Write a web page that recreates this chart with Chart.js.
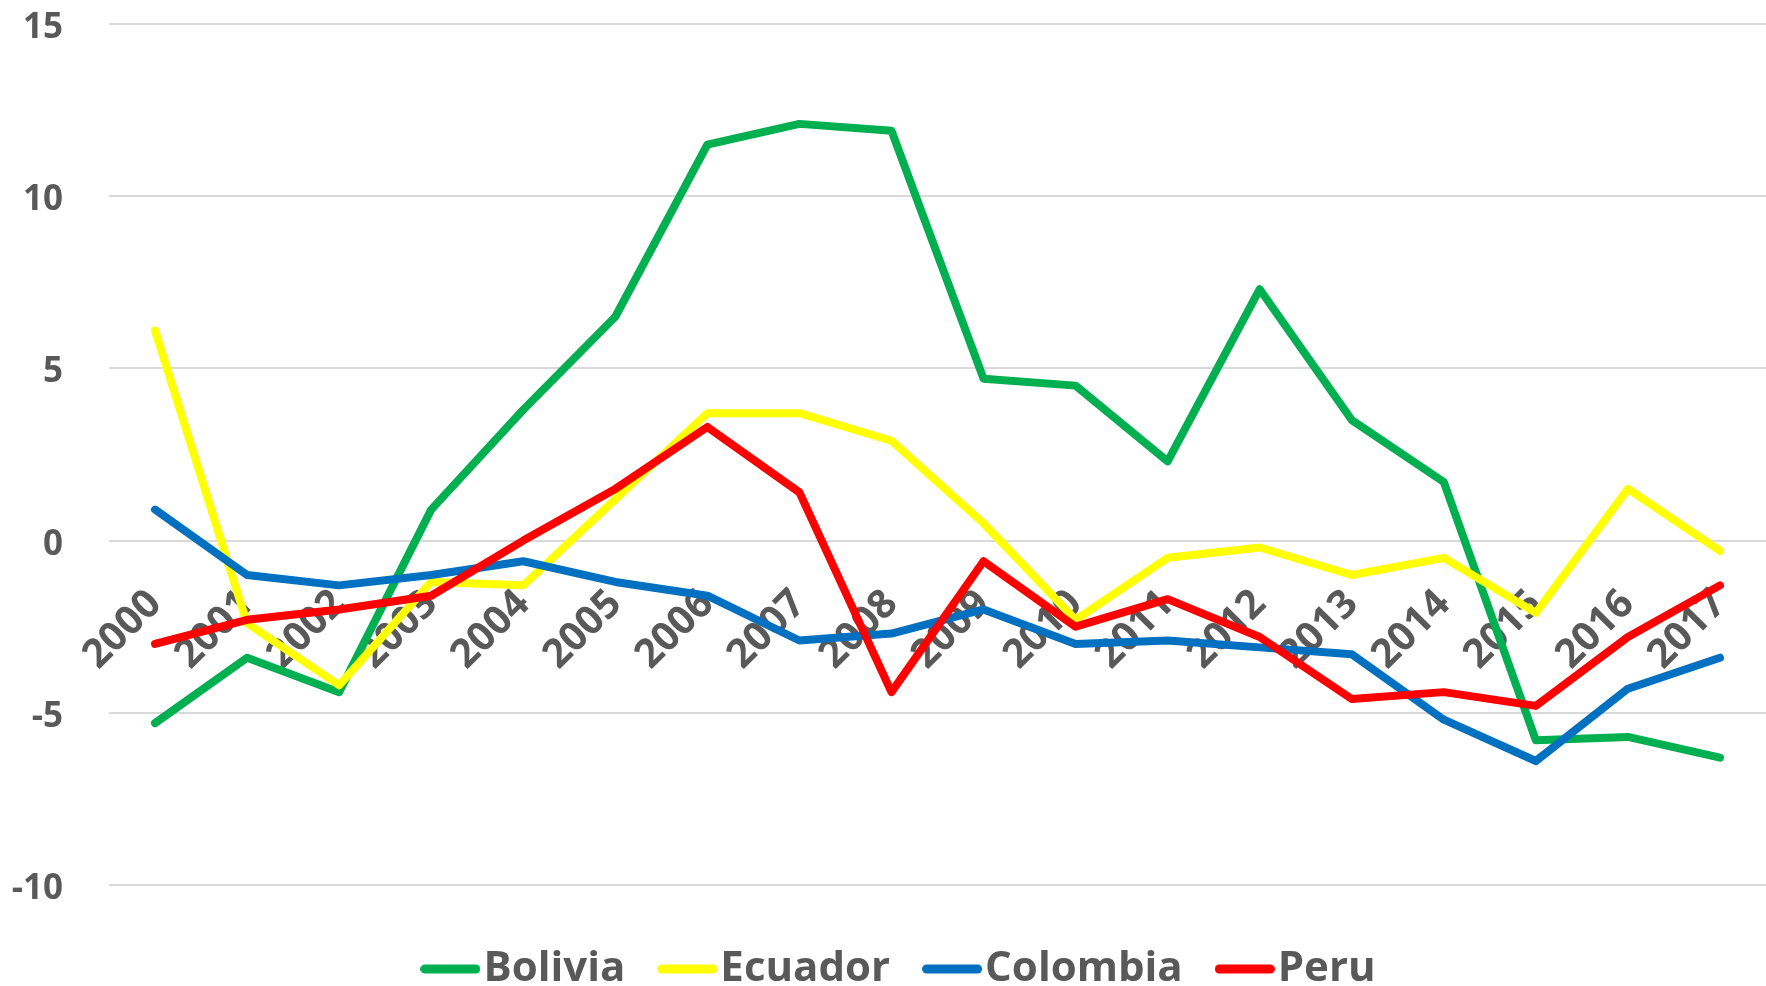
<!DOCTYPE html>
<html>
<head>
<meta charset="utf-8">
<script src="https://cdn.jsdelivr.net/npm/chart.js@4.4.1/dist/chart.umd.min.js"></script>
<style>
    html, body { margin: 0; padding: 0; background: #fff; }
    .chart-box { width: 1766px; height: 986px; }
</style>
</head>
<body>
<div class="chart-box"><canvas id="lineChart"></canvas></div>
<script>
// categories
const years = ["2000", "2001", "2002", "2003", "2004", "2005", "2006", "2007", "2008",
               "2009", "2010", "2011", "2012", "2013", "2014", "2015", "2016", "2017"];

// series values
const bolivia  = [-5.3, -3.4, -4.4, 0.9, 3.8, 6.5, 11.5, 12.1, 11.9, 4.7, 4.5, 2.3, 7.3, 3.5, 1.7, -5.8, -5.7, -6.3];
const ecuador  = [6.1, -2.4, -4.2, -1.2, -1.3, 1.2, 3.7, 3.7, 2.9, 0.5, -2.3, -0.5, -0.2, -1.0, -0.5, -2.1, 1.5, -0.3];
const colombia = [0.9, -1.0, -1.3, -1.0, -0.6, -1.2, -1.6, -2.9, -2.7, -2.0, -3.0, -2.9, -3.1, -3.3, -5.2, -6.4, -4.3, -3.4];
const peru     = [-3.0, -2.3, -2.0, -1.6, 0.0, 1.5, 3.3, 1.4, -4.4, -0.6, -2.5, -1.7, -2.8, -4.6, -4.4, -4.8, -2.8, -1.3];

// y axis ticks
const yMin = -10;
const yMax = 15;
const yStep = 5;

const grey = '#595959';
const font = 'Open Sans';

// legend marker: a short thick line with round ends
function legendLine(color) {
    const c = document.createElement('canvas');
    c.width = 60;
    c.height = 10;
    const g = c.getContext('2d');
    g.strokeStyle = color;
    g.lineWidth = 9;
    g.lineCap = 'round';
    g.beginPath();
    g.moveTo(4.5, 5);
    g.lineTo(55.5, 5);
    g.stroke();
    return c;
}

function series(label, data, color, order) {
    return {
        label: label,
        data: data,
        borderColor: color,
        backgroundColor: color,
        borderWidth: 8,
        borderCapStyle: 'round',
        borderJoinStyle: 'round',
        pointRadius: 0,
        pointHoverRadius: 0,
        pointStyle: legendLine(color),
        tension: 0,
        fill: false,
        order: order
    };
}

// nudge the legend row a little to the right, like the original
const legendShift = {
    id: 'legendShift',
    afterLayout: (chart) => { chart.legend.left += 34; }
};

var ctx = document.getElementById('lineChart').getContext('2d');
var lineChart = new Chart(ctx, {
    type: 'line',
    data: {
        labels: years,
        datasets: [
            series('Bolivia', bolivia, '#00B050', 4),
            series('Ecuador', ecuador, '#FFFF00', 3),
            series('Colombia', colombia, '#0070C0', 2),
            series('Peru', peru, '#FF0000', 1)
        ]
    },
    plugins: [legendShift],
    options: {
        responsive: true,
        maintainAspectRatio: false,
        animation: false,
        layout: { padding: { left: 11, right: -3, top: 24, bottom: -14 } },
        scales: {
            x: {
                position: { y: 0 },
                offset: true,
                z: 1,
                grid: { display: false, drawTicks: true, tickLength: 40 },
                border: { display: false },
                ticks: {
                    autoSkip: false,
                    minRotation: 45,
                    maxRotation: 45,
                    padding: 0,
                    color: grey,
                    font: { family: font, size: 40, weight: 'bold' }
                }
            },
            y: {
                min: yMin,
                max: yMax,
                afterFit: (scale) => { scale.width = 98; },
                grid: { color: '#d9d9d9', lineWidth: 2, drawTicks: true, tickLength: 46, tickColor: 'rgba(0,0,0,0)' },
                border: { display: false },
                ticks: {
                    stepSize: yStep,
                    padding: 0,
                    labelOffset: 4,
                    color: grey,
                    font: { family: font, size: 35, weight: 'bold' }
                }
            }
        },
        plugins: {
            tooltip: { enabled: false },
            legend: {
                position: 'bottom',
                title: { display: true, text: '', font: { size: 5 }, padding: { top: 7, bottom: 0 } },
                labels: {
                    usePointStyle: true,
                    pointStyleWidth: 24,
                    padding: 50,
                    color: grey,
                    font: { family: font, size: 42, weight: 'bold' },
                    sort: (a, b) => a.datasetIndex - b.datasetIndex
                }
            }
        }
    }
});
</script>
</body>
</html>
